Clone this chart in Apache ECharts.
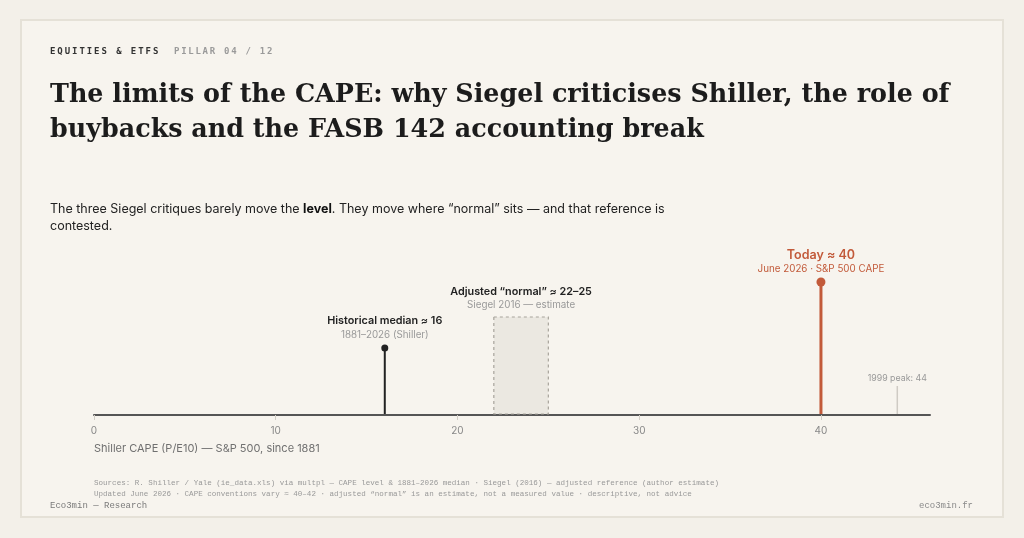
<!DOCTYPE html>
<html>
<head>
<meta charset="utf-8">
<script src="https://cdn.jsdelivr.net/npm/echarts@6/dist/echarts.min.js"></script>
<style>
  html, body { margin: 0; padding: 0; background: #f3f0e9; }
  #chart { width: 1024px; height: 538px; }
</style>
</head>
<body>
<div id="chart"></div>
<script>
// values
var axisTicks = [0, 10, 20, 30, 40];
var markerValues = [16, 40, 44.2];
var markerTitles = ['Historical median ≈ 16', 'Today ≈ 40', ''];
var markerNotes = ['1881–2026 (Shiller)', 'June 2026 · S&P 500 CAPE', '1999 peak: 44'];
var normalRange = [22, 25];
var normalTitle = 'Adjusted “normal” ≈ 22–25';
var normalNote = 'Siegel 2016 — estimate';

var chart = echarts.init(document.getElementById('chart'));

var sans = 'Inter, Roboto, sans-serif';
var mono = '"DejaVu Sans Mono", monospace';
var orange = '#c25a3a';

// stem look, by marker index
var stemStyle = [
  { color: '#222222', width: 2, dot: 3.5, px: 67, titleSize: 10.8, titleColor: '#222', noteColor: '#999', noteSize: 9.8 },
  { color: orange, width: 3, dot: 4.5, px: 133, titleSize: 12.5, titleColor: orange, noteColor: orange, noteSize: 9.8 },
  { color: '#cfcbc4', width: 1.5, dot: 0, px: 29, titleSize: 9, titleColor: '#999', noteColor: '#999', noteSize: 8.8 }
];

function spaced(str, x, y, pitch, color) {
  var out = [];
  for (var i = 0; i < str.length; i++) {
    out.push({
      type: 'text', left: x + i * pitch, top: y,
      style: { text: str[i], fill: color, font: 'bold 9px ' + mono }
    });
  }
  return out;
}

var graphics = [
  { type: 'rect', shape: { x: 21, y: 20, width: 982, height: 497 },
    style: { fill: '#f7f4ee', stroke: '#e5e1d7', lineWidth: 2 }, z: -10 }
];
graphics = graphics.concat(spaced('EQUITIES & ETFS', 50, 47, 7.35, '#333'));
graphics = graphics.concat(spaced('PILLAR 04 / 12', 174, 47, 7.15, '#9a9a9a'));
graphics.push(
  { type: 'text', left: 50, top: 78,
    style: { text: 'The limits of the CAPE: why Siegel criticises Shiller, the role of\nbuybacks and the FASB 142 accounting break',
      fill: '#1c1c1c', font: 'bold 25.4px "DejaVu Serif", serif', lineHeight: 35 } },
  { type: 'text', left: 50, top: 203,
    style: { text: '{n|The three Siegel critiques barely move the }{b|level}{n|. They move where “normal” sits — and that reference is}\n{n|contested.}',
      rich: {
        n: { fontFamily: sans, fontSize: 12.5, fill: '#222', lineHeight: 17 },
        b: { fontFamily: sans, fontSize: 12.5, fontWeight: 'bold', fill: '#111', lineHeight: 17 }
      } } },
  { type: 'text', left: 94, top: 443,
    style: { text: 'Shiller CAPE (P/E10) — S&P 500, since 1881', fill: '#707070', font: '11px ' + sans } },
  { type: 'text', left: 94, top: 477,
    style: { text: 'Sources: R. Shiller / Yale (ie_data.xls) via multpl — CAPE level & 1881–2026 median · Siegel (2016) — adjusted reference (author estimate)\nUpdated June 2026 · CAPE conventions vary ≈ 40–42 · adjusted “normal” is an estimate, not a measured value · descriptive, not advice',
      fill: '#999', font: '7.55px "Liberation Mono", monospace', lineHeight: 11 } },
  { type: 'text', left: 50, top: 501,
    style: { text: 'Eco3min — Research', fill: '#7a7a7a', font: '9px "Liberation Mono", monospace' } },
  { type: 'text', right: 51, top: 501,
    style: { text: 'eco3min.fr', fill: '#8a8a8a', font: '9px "Liberation Mono", monospace' } }
);

var option = {
  backgroundColor: '#f3f0e9',
  animation: false,
  grid: { left: 94, right: 94, top: 215, bottom: 123 },
  xAxis: {
    type: 'value', min: 0, max: 46, interval: 10,
    axisLine: { lineStyle: { color: '#555', width: 2 } },
    axisTick: { show: true, length: 5, inside: false, customValues: axisTicks, lineStyle: { color: '#d2cec6' } },
    axisLabel: { customValues: axisTicks, color: '#888', fontFamily: sans, fontSize: 10, margin: 11 },
    splitLine: { show: false }
  },
  yAxis: { type: 'value', min: 0, max: 100, show: false },
  graphic: graphics,
  series: [
    {
      type: 'custom',
      data: [normalRange],
      z: 2,
      renderItem: function (params, api) {
        var a = api.coord([api.value(0), 0]);
        var b = api.coord([api.value(1), 0]);
        var top = a[1] - 98;
        var mid = (a[0] + b[0]) / 2;
        return { type: 'group', children: [
          { type: 'rect', shape: { x: a[0], y: top, width: b[0] - a[0], height: a[1] - top - 1 },
            style: { fill: '#ebe8e1', stroke: '#a8a49c', lineWidth: 1.2, lineDash: [3, 3] } },
          { type: 'text', x: mid, y: top - 25,
            style: { text: normalTitle, fill: '#222', font: '600 10.8px ' + sans, align: 'center', verticalAlign: 'middle' } },
          { type: 'text', x: mid, y: top - 12,
            style: { text: normalNote, fill: '#999', font: '9.8px ' + sans, align: 'center', verticalAlign: 'middle' } }
        ] };
      }
    },
    {
      type: 'custom',
      data: markerValues.map(function (v, i) { return [v, i]; }),
      z: 3,
      renderItem: function (params, api) {
        var i = api.value(1);
        var s = stemStyle[i];
        var base = api.coord([api.value(0), 0]);
        var topY = base[1] - s.px;
        var kids = [
          { type: 'line', shape: { x1: base[0], y1: base[1] - 1, x2: base[0], y2: topY },
            style: { stroke: s.color, lineWidth: s.width } }
        ];
        if (s.dot) {
          kids.push({ type: 'circle', shape: { cx: base[0], cy: topY, r: s.dot }, style: { fill: s.color } });
        }
        if (markerTitles[i]) {
          kids.push({ type: 'text', x: base[0], y: topY - 27,
            style: { text: markerTitles[i], fill: s.titleColor, font: '600 ' + s.titleSize + 'px ' + sans, align: 'center', verticalAlign: 'middle' } });
          kids.push({ type: 'text', x: base[0], y: topY - 13,
            style: { text: markerNotes[i], fill: s.noteColor, font: s.noteSize + 'px ' + sans, align: 'center', verticalAlign: 'middle' } });
        } else {
          kids.push({ type: 'text', x: base[0], y: topY - 8,
            style: { text: markerNotes[i], fill: s.noteColor, font: s.noteSize + 'px ' + sans, align: 'center', verticalAlign: 'middle' } });
        }
        return { type: 'group', children: kids };
      }
    }
  ]
};

chart.setOption(option);
window.onresize = chart.resize;
</script>
</body>
</html>
